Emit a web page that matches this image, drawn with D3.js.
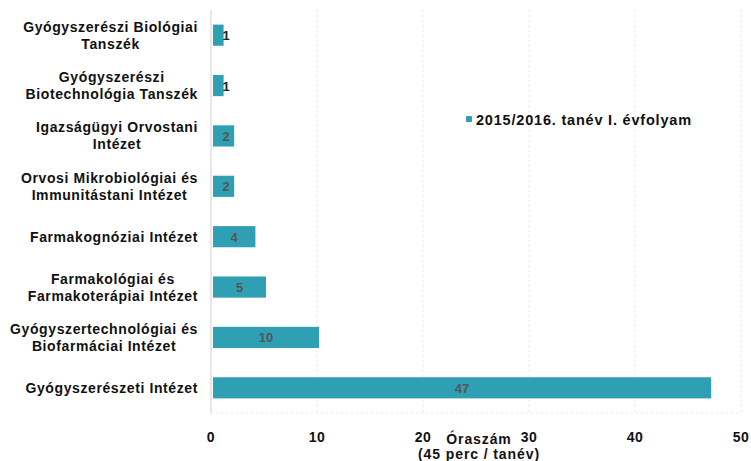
<!DOCTYPE html>
<html>
<head>
<meta charset="utf-8">
<script src="https://cdn.jsdelivr.net/npm/d3@7"></script>
<style>
  body { margin: 0; background: #fff; }
  svg text { font-family: "Liberation Sans", Arial, sans-serif; font-weight: bold; }
</style>
</head>
<body>
<svg id="graf" width="751" height="461"></svg>
<script>
const intezetek = [
  ["Gyógyszerészi Biológiai", "Tanszék"],
  ["Gyógyszerészi", "Biotechnológia Tanszék"],
  ["Igazságügyi Orvostani", "Intézet"],
  ["Orvosi Mikrobiológiai és", "Immunitástani Intézet"],
  ["Farmakognóziai Intézet"],
  ["Farmakológiai és", "Farmakoterápiai Intézet"],
  ["Gyógyszertechnológiai és", "Biofarmáciai Intézet"],
  ["Gyógyszerészeti Intézet"]
];
const oraszam = [1, 1, 2, 2, 4, 5, 10, 47];
const xTicks = [0, 10, 20, 30, 40, 50];
const sorozat = "2015/2016. tanév I. évfolyam";
const tengelyCim = ["Óraszám", "(45 perc / tanév)"];

const svg = d3.select("#graf");
const szin = "#2f9fb3";

const x = d3.scaleLinear().domain([0, 50]).range([211, 741]);
const y = d3.scaleBand().domain(d3.range(intezetek.length)).range([10, 413]).paddingInner(0.58).paddingOuter(0.29);

// racsvonalak
svg.append("g")
  .selectAll("line")
  .data(xTicks)
  .enter()
  .append("line")
  .attr("x1", d => x(d)).attr("x2", d => x(d))
  .attr("y1", 10).attr("y2", 413)
  .attr("stroke", d => d === 0 ? "#d0d0d0" : "#e6e6e6")
  .attr("stroke-dasharray", d => d === 0 ? null : "2,3");

svg.append("line")
  .attr("x1", x(0)).attr("x2", x(50))
  .attr("y1", 413).attr("y2", 413)
  .attr("stroke", "#e6e6e6")
  .attr("stroke-dasharray", "2,3");

// tengely feliratok
svg.append("g")
  .selectAll("text")
  .data(xTicks)
  .enter()
  .append("text")
  .attr("x", d => x(d))
  .attr("y", 442)
  .attr("text-anchor", "middle")
  .attr("font-size", 14)
  .attr("letter-spacing", 0.5)
  .attr("fill", "#111")
  .text(d => d);

svg.append("g")
  .selectAll("text")
  .data(tengelyCim)
  .enter()
  .append("text")
  .attr("x", 479)
  .attr("y", (d, i) => 444 + i * 15)
  .attr("text-anchor", "middle")
  .attr("font-size", 14)
  .attr("letter-spacing", 0.9)
  .attr("fill", "#111")
  .text(d => d);

// kategoria cimkek
intezetek.forEach((sorok, i) => {
  const g = svg.append("g");
  const cy = y(i) + y.bandwidth() / 2;
  const t = g.selectAll("text")
    .data(sorok)
    .enter()
    .append("text")
    .attr("y", (d, j) => cy + 5 + (j - (sorok.length - 1) / 2) * 17)
    .attr("text-anchor", "middle")
    .attr("font-size", 14)
    .attr("letter-spacing", 0.6)
    .attr("fill", "#111")
    .text(d => d);
  let maxW = 0;
  t.each(function() { maxW = Math.max(maxW, this.getComputedTextLength()); });
  t.attr("x", 198 - maxW / 2);
});

// oszlopok
svg.append("g")
  .selectAll("rect")
  .data(oraszam)
  .enter()
  .append("rect")
  .attr("x", x(0) + 2)
  .attr("y", (d, i) => y(i))
  .attr("width", d => x(d) - x(0))
  .attr("height", y.bandwidth())
  .attr("fill", szin);

svg.append("g")
  .selectAll("text")
  .data(oraszam)
  .enter()
  .append("text")
  .attr("x", d => Math.max(x(d / 2) + 2, x(0) + 15))
  .attr("y", (d, i) => y(i) + y.bandwidth() / 2 + 5)
  .attr("text-anchor", "middle")
  .attr("font-size", 13)
  .attr("fill", d => d === 1 ? "#222" : "#555")
  .text(d => d);

// jelmagyarazat
svg.append("rect")
  .attr("x", 466).attr("y", 116)
  .attr("width", 6).attr("height", 6)
  .attr("rx", 1)
  .attr("fill", szin);
svg.append("text")
  .attr("x", 476).attr("y", 125)
  .attr("font-size", 14.5)
  .attr("letter-spacing", 0.8)
  .attr("fill", "#111")
  .text(sorozat);
</script>
</body>
</html>
